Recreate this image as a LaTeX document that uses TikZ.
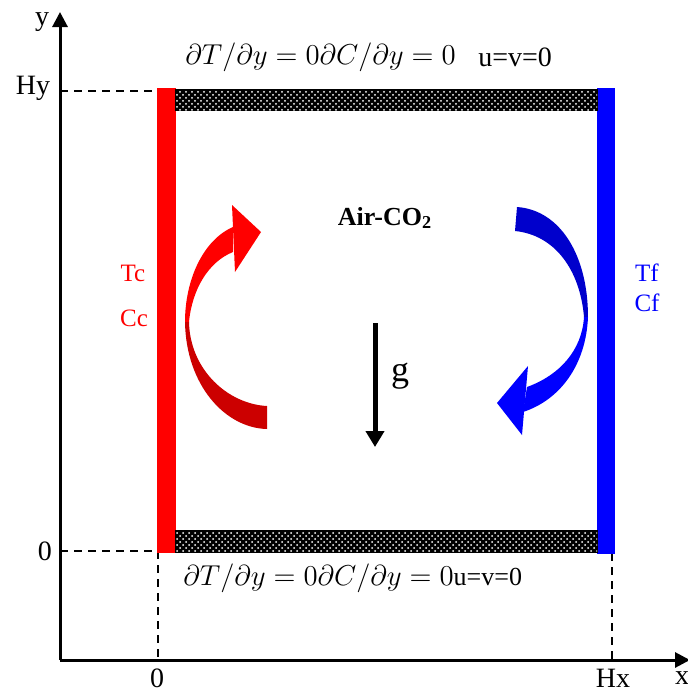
\documentclass[tikz,border=0pt]{standalone}
\usepackage{fontspec}
\setmainfont{Liberation Serif}
\usetikzlibrary{arrows.meta,patterns}

\definecolor{hotred}{RGB}{255,0,0}
\definecolor{darkhot}{RGB}{204,0,0}
\definecolor{coldblue}{RGB}{0,0,255}
\definecolor{darkcold}{RGB}{0,0,204}

\begin{document}
\begin{tikzpicture}[x=0.5pt, y=-0.5pt]
    \tikzstyle{axis} = [line width=1.5pt, -{Triangle[length=7.5pt,width=7.5pt]}]
    \tikzstyle{guide} = [line width=1pt, dash pattern=on 4pt off 3pt]
    \tikzstyle{porous} = [draw=black, line width=0.6pt, fill=black, postaction={pattern=crosshatch dots, pattern color=white}]
    \tikzstyle{lbl} = [inner sep=0pt, font=\fontsize{14}{16}\selectfont]
    \tikzstyle{wlbl} = [inner sep=0pt, font=\fontsize{12.5}{14}\selectfont]
    \tikzstyle{bc} = [inner sep=0pt, anchor=west, font=\fontsize{15.5}{18}\selectfont]

    \useasboundingbox (0,0) rectangle (688,692);

    % Axes
    \coordinate (O) at (60,660);
    \coordinate (ytip) at (60,12);
    \coordinate (xtip) at (690,660);
    \draw [axis] (O) -- (ytip);
    \draw [axis] (O) -- (xtip);
    \node [lbl] (ylab) at (42,22) {y};
    \node [lbl] (xlab) at (682,678) {x};

    % Guides
    \coordinate (hy) at (60,91);
    \coordinate (hyw) at (158,91);
    \coordinate (zy) at (60,551);
    \coordinate (zyw) at (158,551);
    \coordinate (zx) at (158,660);
    \coordinate (hxw) at (612,553);
    \coordinate (hx) at (612,660);
    \draw [guide] (hy) -- (hyw);
    \draw [guide] (zy) -- (zyw);
    \draw [guide] (zyw) -- (zx);
    \draw [guide] (hxw) -- (hx);
    \node [lbl] (hylab) at (33,88) {Hy};
    \node [lbl] (zylab) at (45,551) {0};
    \node [lbl] (zxlab) at (157,678) {0};
    \node [lbl] (hxlab) at (613,678) {Hx};

    % Walls
    \fill [hotred] (157,88) rectangle (176,553);
    \fill [coldblue] (597,88) rectangle (615,554);
    \draw [porous] (176,90) rectangle (597,110);
    \draw [porous] (176,531) rectangle (597,552);

    % Boundary conditions
    \node [bc] (topbc) at (185,57) {$\partial T/\partial y = 0\partial C/\partial y = 0$};
    \node [inner sep=0pt, anchor=west, font=\fontsize{14}{16}\selectfont] (topuv) at (478,57) {u=v=0};
    \node [bc] (botbc) at (183,578) {$\partial T/\partial y = 0\partial C/\partial y = 0$\fontsize{13}{15}\selectfont u=v=0};

    \node [wlbl, text=hotred] (tc) at (133,273) {Tc};
    \node [wlbl, text=hotred] (cc) at (134,318) {Cc};
    \node [wlbl, text=coldblue] (tf) at (647,273) {Tf};
    \node [wlbl, text=coldblue] (cf) at (647,303) {Cf};

    \node [inner sep=0pt, font=\fontsize{13}{15}\selectfont\bfseries] (fluid) at (385,218) {Air-CO\textsubscript{2}};

    % Gravity
    \coordinate (gtop) at (375,323);
    \coordinate (gbot) at (375,447);
    \draw [line width=2.5pt, -{Triangle[length=8pt,width=9pt]}] (gtop) -- (gbot);
    \node [inner sep=0pt, font=\fontsize{18}{20}\selectfont] (glab) at (400,376) {g};

    % Hot side cell
    \fill [hotred] (233,227) .. controls (203,240) and (185,280) .. (185,322) -- (189,322) .. controls (192,290) and (208,262) .. (233,252) -- cycle;
    \fill [darkhot] (185,322) .. controls (186,385) and (225,428) .. (267,429) -- (267,406) .. controls (228,404) and (190,370) .. (189,322) -- cycle;
    \fill [hotred] (232,205) -- (261,232) -- (235,272) -- cycle;

    % Cold side cell
    \fill [darkcold] (517,207) .. controls (560,210) and (588,255) .. (588,317) -- (584,317) .. controls (580,270) and (555,235) .. (515,231) -- cycle;
    \fill [coldblue] (588,317) .. controls (586,365) and (560,400) .. (523,412) -- (527,387) .. controls (560,375) and (582,350) .. (584,317) -- cycle;
    \fill [coldblue] (528,366) -- (497,403) -- (522,435) -- cycle;
\end{tikzpicture}
\end{document}
